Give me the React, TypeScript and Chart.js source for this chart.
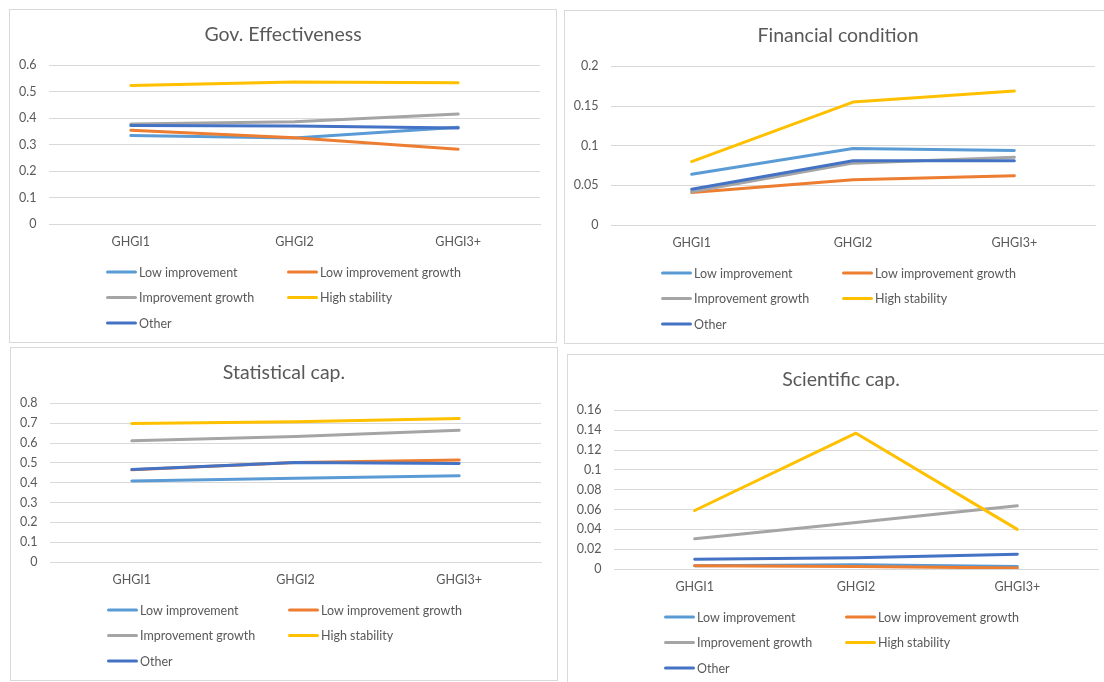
import React, { useEffect, useRef } from "react";
import { Chart, registerables } from "chart.js";

Chart.register(...registerables);

// Shared categories and series
const categories = ["GHGI1", "GHGI2", "GHGI3+"];
const seriesNames = [
  "Low improvement",
  "Low improvement growth",
  "Improvement growth",
  "High stability",
  "Other",
];
const seriesColors = ["#5B9BD5", "#ED7D31", "#A5A5A5", "#FFC000", "#4472C4"];

// Gov. Effectiveness
const govLowImprovement = [0.335, 0.325, 0.366];
const govLowImprovementGrowth = [0.355, 0.326, 0.283];
const govImprovementGrowth = [0.378, 0.387, 0.416];
const govHighStability = [0.524, 0.537, 0.534];
const govOther = [0.373, 0.371, 0.363];
const govTicks = { max: 0.6, step: 0.1 };

// Financial condition
const finLowImprovement = [0.064, 0.0965, 0.094];
const finLowImprovementGrowth = [0.041, 0.057, 0.062];
const finImprovementGrowth = [0.042, 0.078, 0.0855];
const finHighStability = [0.08, 0.155, 0.169];
const finOther = [0.045, 0.081, 0.081];
const finTicks = { max: 0.2, step: 0.05 };

// Statistical cap.
const statLowImprovement = [0.409, 0.423, 0.435];
const statLowImprovementGrowth = [0.465, 0.502, 0.515];
const statImprovementGrowth = [0.611, 0.633, 0.664];
const statHighStability = [0.698, 0.708, 0.724];
const statOther = [0.466, 0.502, 0.497];
const statTicks = { max: 0.8, step: 0.1 };

// Scientific cap.
const sciLowImprovement = [0.0034, 0.0044, 0.0025];
const sciLowImprovementGrowth = [0.0032, 0.0025, 0.001];
const sciImprovementGrowth = [0.0305, 0.047, 0.0637];
const sciHighStability = [0.059, 0.137, 0.04];
const sciOther = [0.0099, 0.0114, 0.015];
const sciTicks = { max: 0.16, step: 0.02 };

const FONT = "Lato, 'Open Sans', sans-serif";
const TEXT_COLOR = "#595959";
const GRID_COLOR = "#D9D9D9";
const PANEL_W = 548;
const PANEL_H = 334;

type PanelDef = {
  title: string;
  series: number[][];
  ticks: { max: number; step: number };
  left: number;
  top: number;
  axisWidth: number;
};

const panels: PanelDef[] = [
  {
    title: "Gov. Effectiveness",
    series: [govLowImprovement, govLowImprovementGrowth, govImprovementGrowth, govHighStability, govOther],
    ticks: govTicks,
    left: 9,
    top: 9,
    axisWidth: 40,
  },
  {
    title: "Financial condition",
    series: [finLowImprovement, finLowImprovementGrowth, finImprovementGrowth, finHighStability, finOther],
    ticks: finTicks,
    left: 564,
    top: 10,
    axisWidth: 47,
  },
  {
    title: "Statistical cap.",
    series: [statLowImprovement, statLowImprovementGrowth, statImprovementGrowth, statHighStability, statOther],
    ticks: statTicks,
    left: 10,
    top: 347,
    axisWidth: 40,
  },
  {
    title: "Scientific cap.",
    series: [sciLowImprovement, sciLowImprovementGrowth, sciImprovementGrowth, sciHighStability, sciOther],
    ticks: sciTicks,
    left: 567,
    top: 354,
    axisWidth: 47,
  },
];

// Title centred on the whole panel, not on the plot area
const panelTitle = {
  id: "panelTitle",
  afterDraw(chart: any, _args: any, opts: any) {
    const { ctx, width } = chart;
    ctx.save();
    ctx.font = `19.5px ${FONT}`;
    ctx.fillStyle = TEXT_COLOR;
    ctx.textAlign = "center";
    ctx.textBaseline = "middle";
    ctx.fillText(opts.text, width / 2, 25.7);
    ctx.restore();
  },
};

// Two-column legend under the plot, rows filled left to right
const columnLegend = {
  id: "columnLegend",
  afterDraw(chart: any) {
    const { ctx } = chart;
    const colX = [97, 278];
    const firstRowY = 263;
    const rowGap = 25.5;
    const sample = 31;
    ctx.save();
    ctx.font = `12.5px ${FONT}`;
    ctx.textBaseline = "middle";
    ctx.textAlign = "left";
    chart.data.datasets.forEach((ds: any, i: number) => {
      const x = colX[i % 2];
      const y = firstRowY + Math.floor(i / 2) * rowGap;
      ctx.strokeStyle = ds.borderColor;
      ctx.lineWidth = 3;
      ctx.lineCap = "round";
      ctx.beginPath();
      ctx.moveTo(x + 1.5, y);
      ctx.lineTo(x + sample - 1.5, y);
      ctx.stroke();
      ctx.fillStyle = TEXT_COLOR;
      ctx.fillText(ds.label, x + sample + 2, y + 0.5);
    });
    ctx.restore();
  },
};

function formatTick(v: number | string) {
  return String(Number(Number(v).toFixed(4)));
}

function LinePanel({ def }: { def: PanelDef }) {
  const ref = useRef<HTMLCanvasElement | null>(null);

  useEffect(() => {
    if (!ref.current) return;
    const n = def.series.length;
    const chart = new Chart(ref.current, {
      type: "line",
      data: {
        labels: categories,
        datasets: def.series.map((values, i) => ({
          label: seriesNames[i],
          data: values,
          borderColor: seriesColors[i],
          backgroundColor: seriesColors[i],
          borderWidth: 3,
          pointRadius: 0,
          pointHoverRadius: 0,
          tension: 0,
          borderCapStyle: "round",
          borderJoinStyle: "round",
          fill: false,
          order: n - i,
        })),
      },
      options: {
        responsive: false,
        animation: false,
        events: [],
        layout: { padding: { left: 0, right: 17, top: 56.4, bottom: 89 } },
        plugins: {
          legend: { display: false },
          tooltip: { enabled: false },
          title: { display: false },
          panelTitle: { text: def.title },
        },
        scales: {
          x: {
            type: "category",
            offset: true,
            grid: { display: false, drawTicks: false },
            border: { display: true, color: GRID_COLOR, width: 1 },
            ticks: {
              color: TEXT_COLOR,
              font: { family: FONT, size: 12.5 },
              padding: 10,
              maxRotation: 0,
              autoSkip: false,
            },
            afterFit: (s: any) => {
              s.height = 30;
            },
          },
          y: {
            min: 0,
            max: def.ticks.max,
            grid: { color: GRID_COLOR, lineWidth: 1, drawTicks: false },
            border: { display: false },
            ticks: {
              stepSize: def.ticks.step,
              color: TEXT_COLOR,
              font: { family: FONT, size: 12.5 },
              padding: 12.5,
              callback: (v: any) => formatTick(v),
            },
            afterFit: (s: any) => {
              s.width = def.axisWidth;
            },
          },
        },
      } as any,
      plugins: [panelTitle, columnLegend],
    });
    return () => chart.destroy();
  }, [def]);

  return (
    <div
      style={{
        position: "absolute",
        left: def.left,
        top: def.top,
        width: PANEL_W,
        height: PANEL_H,
        background: "#fff",
      }}
    >
      <canvas ref={ref} width={PANEL_W} height={PANEL_H} style={{ display: "block" }} />
      <div
        style={{
          position: "absolute",
          inset: 0,
          border: `1px solid ${GRID_COLOR}`,
          pointerEvents: "none",
        }}
      />
    </div>
  );
}

export default function App() {
  return (
    <div
      style={{
        position: "fixed",
        left: 0,
        top: 0,
        width: 1104,
        height: 682,
        overflow: "hidden",
        background: "#fff",
      }}
    >
      {panels.map((p) => (
        <LinePanel key={p.title} def={p} />
      ))}
    </div>
  );
}
